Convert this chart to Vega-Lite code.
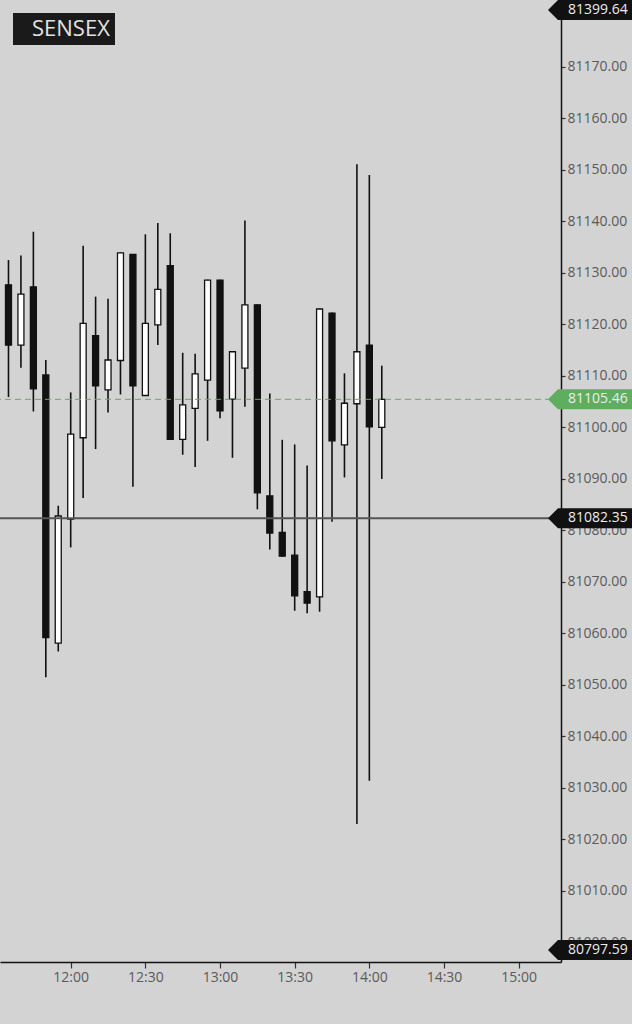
{
  "$schema": "https://vega.github.io/schema/vega-lite/v6.json",
  "width": 561,
  "height": 962,
  "autosize": {"type": "none"},
  "padding": {"left": 0, "top": 0, "right": 71, "bottom": 62},
  "background": "#d3d3d3",
  "config": {"view": {"stroke": null}},
  "data": {
    "values": [
      {"t": "11:35", "o": 81127.7, "h": 81132.5, "l": 81105.9, "c": 81116.0, "index": "SENSEX"},
      {"t": "11:40", "o": 81116.0, "h": 81133.4, "l": 81111.6, "c": 81125.9, "index": "SENSEX"},
      {"t": "11:45", "o": 81127.3, "h": 81138.0, "l": 81103.1, "c": 81107.5, "index": "SENSEX"},
      {"t": "11:50", "o": 81110.2, "h": 81113.1, "l": 81051.5, "c": 81059.2, "index": "SENSEX"},
      {"t": "11:55", "o": 81058.1, "h": 81084.8, "l": 81056.5, "c": 81082.8, "index": "SENSEX"},
      {"t": "12:00", "o": 81082.2, "h": 81106.8, "l": 81076.7, "c": 81098.7, "index": "SENSEX"},
      {"t": "12:05", "o": 81098.0, "h": 81135.3, "l": 81086.3, "c": 81120.2, "index": "SENSEX"},
      {"t": "12:10", "o": 81117.8, "h": 81125.4, "l": 81095.8, "c": 81108.1, "index": "SENSEX"},
      {"t": "12:15", "o": 81107.3, "h": 81125.0, "l": 81102.9, "c": 81113.1, "index": "SENSEX"},
      {"t": "12:20", "o": 81113.0, "h": 81134.0, "l": 81106.4, "c": 81133.9, "index": "SENSEX"},
      {"t": "12:25", "o": 81133.6, "h": 81133.7, "l": 81088.5, "c": 81108.1, "index": "SENSEX"},
      {"t": "12:30", "o": 81106.2, "h": 81137.5, "l": 81106.1, "c": 81120.2, "index": "SENSEX"},
      {"t": "12:35", "o": 81119.9, "h": 81139.7, "l": 81116.0, "c": 81126.8, "index": "SENSEX"},
      {"t": "12:40", "o": 81131.4, "h": 81137.7, "l": 81097.6, "c": 81097.7, "index": "SENSEX"},
      {"t": "12:45", "o": 81097.7, "h": 81114.5, "l": 81094.7, "c": 81104.4, "index": "SENSEX"},
      {"t": "12:50", "o": 81103.7, "h": 81114.3, "l": 81092.3, "c": 81110.4, "index": "SENSEX"},
      {"t": "12:55", "o": 81109.2, "h": 81128.7, "l": 81097.4, "c": 81128.6, "index": "SENSEX"},
      {"t": "13:00", "o": 81128.6, "h": 81128.7, "l": 81101.8, "c": 81103.2, "index": "SENSEX"},
      {"t": "13:05", "o": 81105.5, "h": 81114.8, "l": 81094.1, "c": 81114.7, "index": "SENSEX"},
      {"t": "13:10", "o": 81111.5, "h": 81140.2, "l": 81104.0, "c": 81123.8, "index": "SENSEX"},
      {"t": "13:15", "o": 81123.8, "h": 81123.9, "l": 81084.1, "c": 81087.3, "index": "SENSEX"},
      {"t": "13:20", "o": 81086.7, "h": 81106.6, "l": 81076.3, "c": 81079.5, "index": "SENSEX"},
      {"t": "13:25", "o": 81079.6, "h": 81097.6, "l": 81074.9, "c": 81075.0, "index": "SENSEX"},
      {"t": "13:30", "o": 81075.2, "h": 81096.7, "l": 81064.4, "c": 81067.3, "index": "SENSEX"},
      {"t": "13:35", "o": 81068.1, "h": 81092.6, "l": 81063.9, "c": 81065.9, "index": "SENSEX"},
      {"t": "13:40", "o": 81067.1, "h": 81123.1, "l": 81064.2, "c": 81123.0, "index": "SENSEX"},
      {"t": "13:45", "o": 81122.2, "h": 81122.3, "l": 81081.7, "c": 81097.4, "index": "SENSEX"},
      {"t": "13:50", "o": 81096.6, "h": 81110.5, "l": 81090.3, "c": 81104.7, "index": "SENSEX"},
      {"t": "13:55", "o": 81104.6, "h": 81151.1, "l": 81023.0, "c": 81114.7, "index": "SENSEX"},
      {"t": "14:00", "o": 81116.0, "h": 81149.0, "l": 81031.4, "c": 81100.1, "index": "SENSEX"},
      {"t": "14:05", "o": 81100.0, "h": 81112.0, "l": 81090.0, "c": 81105.46, "index": "SENSEX"}
    ],
    "format": {"parse": {"t": "utc:'%H:%M'"}}
  },
  "layer": [
    {
      "mark": {"type": "rule", "strokeWidth": 1.6},
      "encoding": {
        "x": {
          "field": "t",
          "type": "temporal",
          "scale": {"type": "utc", "domain": [-2208947184000, -2208933900000], "nice": false},
          "axis": {
            "orient": "bottom",
            "title": null,
            "format": "%H:%M",
            "values": [-2208945600000, -2208943800000, -2208942000000, -2208940200000, -2208938400000, -2208936600000, -2208934800000],
            "grid": false,
            "domainColor": "#111111",
            "domainWidth": 1.5,
            "tickColor": "#333333",
            "tickSize": 6,
            "tickWidth": 1.2,
            "labelPadding": 2,
            "labelFont": "Open Sans",
            "labelFontSize": 14,
            "labelColor": "#5a5a5a",
            "labelFlush": false
          }
        },
        "y": {
          "field": "l",
          "type": "quantitative",
          "scale": {"domain": [80996.2, 81183.0], "zero": false, "nice": false, "clamp": true},
          "axis": {
            "orient": "right",
            "title": null,
            "values": [81000, 81010, 81020, 81030, 81040, 81050, 81060, 81070, 81080, 81090, 81100, 81110, 81120, 81130, 81140, 81150, 81160, 81170],
            "format": ".2f",
            "grid": false,
            "domainColor": "#111111",
            "domainWidth": 1.5,
            "tickColor": "#333333",
            "tickSize": 4,
            "tickWidth": 1.2,
            "labelPadding": 2,
            "labelFont": "Open Sans",
            "labelFontSize": 14,
            "labelColor": "#5a5a5a",
            "labelFlush": false
          }
        },
        "y2": {"field": "h"},
        "color": {
          "field": "index",
          "type": "nominal",
          "scale": {"range": ["#111111"]},
          "legend": {
            "title": null,
            "orient": "top-left",
            "offset": 13,
            "fillColor": "#1a1a1a",
            "padding": 5,
            "symbolSize": 1,
            "symbolOpacity": 0,
            "symbolStrokeWidth": 0,
            "labelOffset": -8,
            "labelFont": "Open Sans",
            "labelFontSize": 22,
            "labelColor": "#e2e2e2"
          }
        }
      }
    },
    {
      "mark": {"type": "bar", "size": 6, "stroke": "#111111", "strokeWidth": 1.3},
      "encoding": {
        "x": {"field": "t", "type": "temporal"},
        "y": {"field": "o", "type": "quantitative"},
        "y2": {"field": "c"},
        "fill": {
          "condition": {"test": "datum.c >= datum.o", "value": "#ffffff"},
          "value": "#111111"
        }
      }
    },
    {
      "data": {"values": [{"kind": "prev", "price": 81082.35}]},
      "mark": {"type": "rule", "color": "#555555", "strokeWidth": 2},
      "encoding": {"y": {"field": "price", "type": "quantitative"}}
    },
    {
      "data": {"values": [{"kind": "last", "price": 81105.46}]},
      "mark": {"type": "rule", "color": "#63ab63", "strokeWidth": 1, "strokeDash": [6, 4]},
      "encoding": {"y": {"field": "price", "type": "quantitative"}}
    },
    {
      "data": {"values": [{"kind": "last", "price": 81105.46}, {"kind": "prev", "price": 81082.35}]},
      "layer": [
        {
          "mark": {"type": "point", "filled": true, "size": 400, "opacity": 1, "shape": "M -1.3 0 L -0.3 -1 L 7.1 -1 L 7.1 1 L -0.3 1 Z"},
          "encoding": {
            "x": {"value": "width"},
            "y": {"field": "price", "type": "quantitative"},
            "fill": {"condition": {"test": "datum.kind === 'last'", "value": "#5fae5f"}, "value": "#111111"}
          }
        },
        {
          "mark": {"type": "text", "align": "left", "baseline": "middle", "dx": 7, "font": "Open Sans", "fontSize": 14, "color": "#ececec"},
          "encoding": {
            "x": {"value": "width"},
            "y": {"field": "price", "type": "quantitative"},
            "text": {"field": "price", "type": "quantitative", "format": ".2f"}
          }
        }
      ]
    },
    {
      "data": {"values": [{"kind": "high", "price": 81399.64}]},
      "layer": [
        {
          "mark": {"type": "point", "filled": true, "size": 400, "opacity": 1, "color": "#111111", "yOffset": 10, "shape": "M -1.3 0 L -0.3 -1 L 7.1 -1 L 7.1 1 L -0.3 1 Z"},
          "encoding": {
            "x": {"value": "width"},
            "y": {"field": "price", "type": "quantitative"}
          }
        },
        {
          "mark": {"type": "text", "align": "left", "baseline": "middle", "dx": 7, "yOffset": 10, "font": "Open Sans", "fontSize": 14, "color": "#ececec"},
          "encoding": {
            "x": {"value": "width"},
            "y": {"field": "price", "type": "quantitative"},
            "text": {"field": "price", "type": "quantitative", "format": ".2f"}
          }
        }
      ]
    },
    {
      "data": {"values": [{"kind": "low", "price": 80797.59}]},
      "layer": [
        {
          "mark": {"type": "point", "filled": true, "size": 400, "opacity": 1, "color": "#111111", "yOffset": -12, "shape": "M -1.3 0 L -0.3 -1 L 7.1 -1 L 7.1 1 L -0.3 1 Z"},
          "encoding": {
            "x": {"value": "width"},
            "y": {"field": "price", "type": "quantitative"}
          }
        },
        {
          "mark": {"type": "text", "align": "left", "baseline": "middle", "dx": 7, "yOffset": -12, "font": "Open Sans", "fontSize": 14, "color": "#ececec"},
          "encoding": {
            "x": {"value": "width"},
            "y": {"field": "price", "type": "quantitative"},
            "text": {"field": "price", "type": "quantitative", "format": ".2f"}
          }
        }
      ]
    }
  ]
}
